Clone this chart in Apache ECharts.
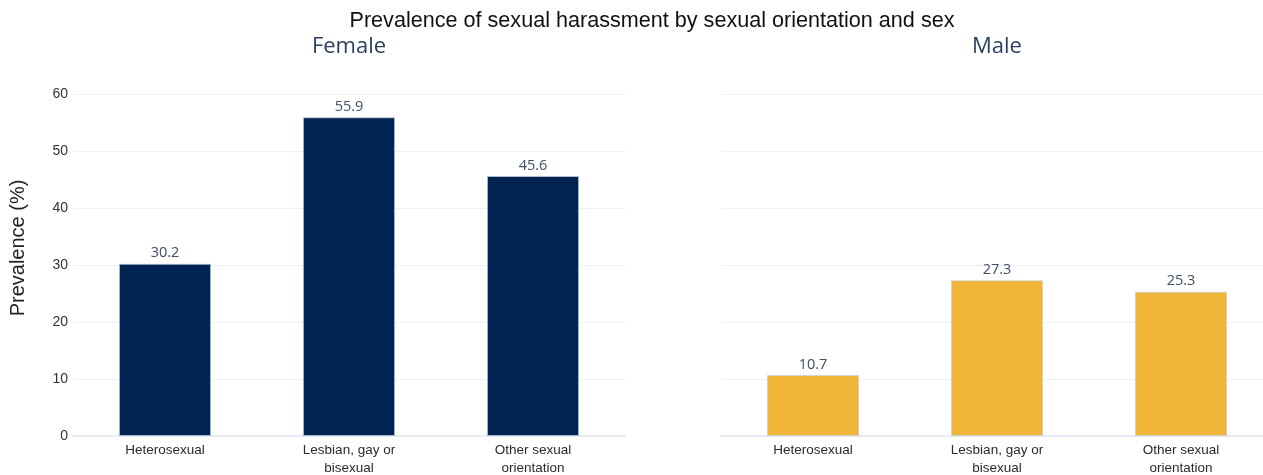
<!DOCTYPE html>
<html>
<head>
<meta charset="utf-8">
<script src="https://cdn.jsdelivr.net/npm/echarts@6/dist/echarts.min.js"></script>
<style>
  html, body { margin: 0; padding: 0; background: #fff; }
  #chart { width: 1263px; height: 475px; }
</style>
</head>
<body>
<div id="chart"></div>
<script>
// Sexual orientation categories (x axis of both panels)
const categories = ['Heterosexual', 'Lesbian, gay or\nbisexual', 'Other sexual\norientation'];
// Prevalence (%) by sex
const femaleValues = [30.2, 55.9, 45.6];
const maleValues = [10.7, 27.3, 25.3];
// Y axis ticks
const yTicks = [0, 10, 20, 30, 40, 50, 60];

const panelTitles = ['Female', 'Male'];
const chartTitle = 'Prevalence of sexual harassment by sexual orientation and sex';
const yAxisTitle = 'Prevalence (%)';

const chart = echarts.init(document.getElementById('chart'), null, { renderer: 'canvas' });

const yMin = yTicks[0];
const yMax = yTicks[yTicks.length - 1];
const yStep = yTicks[1] - yTicks[0];

function xAxis(gridIndex) {
  return {
    type: 'category',
    gridIndex: gridIndex,
    data: categories,
    axisLine: { show: true, lineStyle: { color: '#e5ecf6', width: 2 } },
    axisTick: { show: false },
    axisLabel: {
      color: '#2b2b2b',
      fontFamily: 'Liberation Sans, Arial, sans-serif',
      fontSize: 13.5,
      lineHeight: 18,
      margin: 5,
      interval: 0
    }
  };
}

function yAxis(gridIndex, showLabels) {
  return {
    type: 'value',
    gridIndex: gridIndex,
    min: yMin,
    max: yMax,
    interval: yStep,
    axisLine: { show: false },
    axisTick: { show: false },
    axisLabel: {
      show: showLabels,
      color: '#333',
      fontFamily: 'Liberation Sans, Arial, sans-serif',
      fontSize: 14,
      margin: 5
    },
    splitLine: { show: true, lineStyle: { color: '#eef1f6', width: 1 } }
  };
}

function barSeries(idx, values, color) {
  return {
    type: 'bar',
    xAxisIndex: idx,
    yAxisIndex: idx,
    data: values,
    barCategoryGap: '50%',
    itemStyle: { color: color, borderColor: 'rgba(200,208,224,0.9)', borderWidth: 0.8 },
    label: {
      show: true,
      position: 'top',
      distance: 3,
      color: '#3d4d6b',
      fontFamily: 'Open Sans, sans-serif',
      fontSize: 14.5,
      formatter: p => p.value.toFixed(1)
    },
    silent: true
  };
}

chart.setOption({
  animation: false,
  backgroundColor: '#ffffff',
  title: [
    {
      text: chartTitle,
      left: 652,
      top: 10,
      padding: 0,
      textAlign: 'center',
      textStyle: { color: '#111', fontFamily: 'Liberation Sans, Arial, sans-serif', fontSize: 21.6, fontWeight: 'normal' }
    },
    {
      text: panelTitles[0],
      left: 349,
      top: 36,
      padding: 0,
      textAlign: 'center',
      textStyle: { color: '#2a3f5f', fontFamily: 'Open Sans, sans-serif', fontSize: 22, fontWeight: 'normal' }
    },
    {
      text: panelTitles[1],
      left: 997,
      top: 36,
      padding: 0,
      textAlign: 'center',
      textStyle: { color: '#2a3f5f', fontFamily: 'Open Sans, sans-serif', fontSize: 22, fontWeight: 'normal' }
    }
  ],
  graphic: [
    {
      type: 'text',
      x: 18,
      y: 248,
      rotation: Math.PI / 2,
      style: {
        text: yAxisTitle,
        fill: '#222',
        font: '20px "Liberation Sans", Arial, sans-serif',
        textAlign: 'center',
        textVerticalAlign: 'middle'
      }
    }
  ],
  grid: [
    { left: 73, width: 552, top: 94, bottom: 475 - 436, outerBoundsMode: 'none' },
    { left: 721, width: 552, top: 94, bottom: 475 - 436, outerBoundsMode: 'none' }
  ],
  xAxis: [xAxis(0), xAxis(1)],
  yAxis: [yAxis(0, true), yAxis(1, false)],
  series: [
    barSeries(0, femaleValues, '#002452'),
    barSeries(1, maleValues, '#f0b437')
  ]
});
</script>
</body>
</html>
